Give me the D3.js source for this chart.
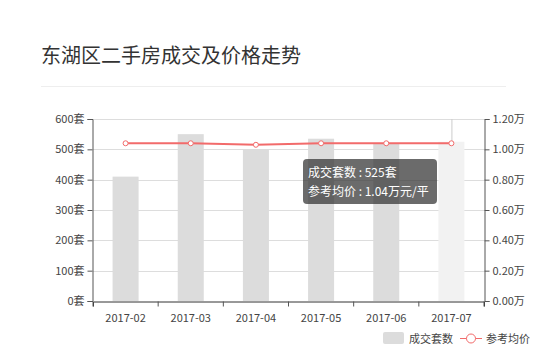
<!DOCTYPE html>
<html>
<head>
<meta charset="utf-8">
<script src="https://d3js.org/d3.v7.min.js"></script>
<style>
  body { margin: 0; background: #fff; }
  svg { font-family: "Microsoft YaHei", "Noto Sans CJK SC", sans-serif; }
</style>
</head>
<body>
<div id="chart"></div>
<script>
// chart data
var months = ["2017-02", "2017-03", "2017-04", "2017-05", "2017-06", "2017-07"];
var deals = [410, 550, 500, 535, 520, 525];
var prices = [1.04, 1.04, 1.03, 1.04, 1.04, 1.04];
var leftTicks = [0, 100, 200, 300, 400, 500, 600];
var rightTicks = [0, 0.2, 0.4, 0.6, 0.8, 1.0, 1.2];
var hoverIndex = 5;

var width = 550, height = 363;
var margin = { left: 93, right: 66, top: 119, bottom: 62 };

var svg = d3.select("#chart").append("svg")
  .attr("width", width)
  .attr("height", height);

// title + separator
svg.append("text")
  .attr("x", 41)
  .attr("y", 63)
  .attr("font-size", 20)
  .attr("fill", "#333")
  .text("东湖区二手房成交及价格走势");

svg.append("line")
  .attr("x1", 41).attr("x2", 506)
  .attr("y1", 86.5).attr("y2", 86.5)
  .attr("stroke", "#eee");

var x = d3.scaleBand()
  .domain(months)
  .range([margin.left, width - margin.right]);

var yL = d3.scaleLinear().domain([0, 600]).range([height - margin.bottom, margin.top]);
var yR = d3.scaleLinear().domain([0, 1.2]).range([height - margin.bottom, margin.top]);

// grid
svg.append("g").selectAll("line")
  .data(leftTicks.slice(1))
  .enter().append("line")
  .attr("x1", margin.left).attr("x2", width - margin.right)
  .attr("y1", function(d) { return Math.round(yL(d)) + 0.5; })
  .attr("y2", function(d) { return Math.round(yL(d)) + 0.5; })
  .attr("stroke", "#ddd");

// axis pointer
svg.append("line")
  .attr("x1", x(months[hoverIndex]) + x.bandwidth() / 2 + 0.5)
  .attr("x2", x(months[hoverIndex]) + x.bandwidth() / 2 + 0.5)
  .attr("y1", margin.top).attr("y2", height - margin.bottom)
  .attr("stroke", "#ccc");

// bars
var barW = 26;
svg.append("g").selectAll("rect")
  .data(deals)
  .enter().append("rect")
  .attr("x", function(d, i) { return x(months[i]) + x.bandwidth() / 2 - barW / 2; })
  .attr("y", function(d) { return yL(d); })
  .attr("width", barW)
  .attr("height", function(d) { return yL(0) - yL(d); })
  .attr("fill", function(d, i) { return i === hoverIndex ? "#f2f2f2" : "#dcdcdc"; });

// axes
var leftAxis = d3.axisLeft(yL).tickValues(leftTicks).tickSize(5).tickPadding(3)
  .tickFormat(function(d) { return d + "套"; });
var gl = svg.append("g").attr("transform", "translate(" + (margin.left - 0.5) + ",0)").call(leftAxis);

var rightAxis = d3.axisRight(yR).tickValues(rightTicks).tickSize(5).tickPadding(3)
  .tickFormat(function(d) { return d3.format(".2f")(d) + "万"; });
var gr = svg.append("g").attr("transform", "translate(" + (width - margin.right + 0.5) + ",0)").call(rightAxis);

var bottomAxis = d3.axisBottom(x).tickSizeOuter(0).tickSize(5).tickPadding(8);
var gb = svg.append("g").attr("transform", "translate(0," + (height - margin.bottom + 0.5) + ")").call(bottomAxis);
// ticks on band boundaries
gb.selectAll(".tick line").attr("transform", "translate(" + (-x.bandwidth() / 2) + ",0)");
gb.append("line")
  .attr("x1", width - margin.right).attr("x2", width - margin.right)
  .attr("y1", 0).attr("y2", 5).attr("stroke", "#333");

[gl, gr, gb].forEach(function(g) {
  g.selectAll("path, line").attr("stroke", "#555");
  g.selectAll("text").attr("fill", "#444").attr("font-size", 11)
    .attr("font-family", "\"Microsoft YaHei\", \"Noto Sans CJK SC\", sans-serif");
});
gb.select("path").attr("stroke", "#333");

// price line
var line = d3.line()
  .x(function(d, i) { return x(months[i]) + x.bandwidth() / 2; })
  .y(function(d) { return yR(d); });

svg.append("path")
  .datum(prices)
  .attr("d", line)
  .attr("fill", "none")
  .attr("stroke", "#f26b6b")
  .attr("stroke-width", 2);

svg.append("g").selectAll("circle")
  .data(prices)
  .enter().append("circle")
  .attr("cx", function(d, i) { return x(months[i]) + x.bandwidth() / 2; })
  .attr("cy", function(d) { return yR(d); })
  .attr("r", 2.5)
  .attr("fill", "#fff")
  .attr("stroke", "#f26b6b")
  .attr("stroke-width", 1);

// tooltip
var tip = svg.append("g").attr("transform", "translate(303,159)");
tip.append("rect")
  .attr("width", 134).attr("height", 45).attr("rx", 4)
  .attr("fill", "rgba(50,50,50,0.72)");
tip.append("text").attr("x", 5).attr("y", 18).attr("fill", "#fff").attr("font-size", 12)
  .text("成交套数 : " + deals[hoverIndex] + "套");
tip.append("text").attr("x", 5).attr("y", 37).attr("fill", "#fff").attr("font-size", 12)
  .text("参考均价 : " + d3.format(".2f")(prices[hoverIndex]) + "万元/平");

// legend
var lg = svg.append("g");
lg.append("rect").attr("x", 383).attr("y", 332).attr("width", 21).attr("height", 12)
  .attr("rx", 2).attr("fill", "#dcdcdc");
lg.append("text").attr("x", 409).attr("y", 343).attr("font-size", 11).attr("fill", "#444").text("成交套数");
lg.append("line").attr("x1", 460).attr("x2", 482).attr("y1", 338.5).attr("y2", 338.5)
  .attr("stroke", "#f26b6b").attr("stroke-width", 1);
lg.append("circle").attr("cx", 471).attr("cy", 338.5).attr("r", 4.5)
  .attr("fill", "#fff").attr("stroke", "#f26b6b");
lg.append("text").attr("x", 486).attr("y", 343).attr("font-size", 11).attr("fill", "#444").text("参考均价");
</script>
</body>
</html>
